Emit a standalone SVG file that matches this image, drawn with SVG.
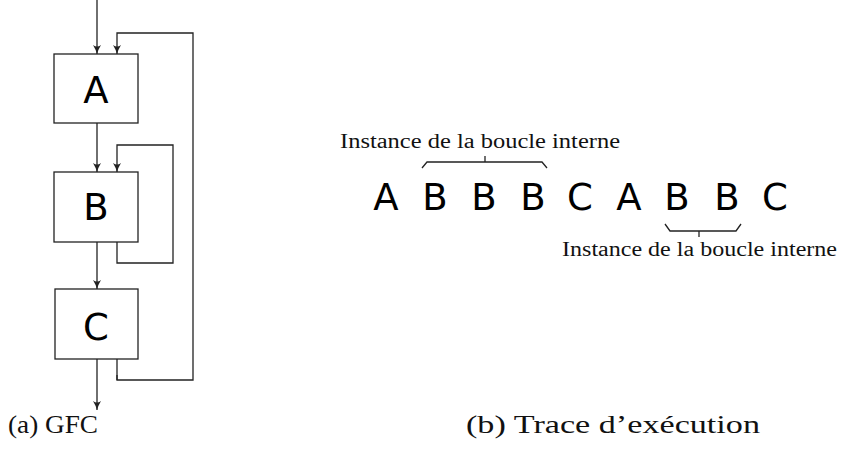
<svg xmlns="http://www.w3.org/2000/svg" width="843" height="457" viewBox="0 0 843 457">
<style>
.box{fill:#fff;stroke:#222;stroke-width:1.3}
.ln{fill:none;stroke:#222;stroke-width:1.3}
.big{font-family:"DejaVu Sans",sans-serif;font-size:37px;fill:#000;text-anchor:middle}
.lbl{font-family:"Liberation Serif",serif;font-size:20px;fill:#111}
.cap{font-family:"Liberation Serif",serif;font-size:25px;fill:#111}
</style>
<defs>
<marker id="ah" markerWidth="10" markerHeight="10" refX="9" refY="5" orient="auto" markerUnits="userSpaceOnUse">
<path d="M0,1 Q5,4 9,5 Q5,6 0,9 Q3,5 0,1 Z" fill="#222"/>
</marker>
</defs>
<g id="connectors">
<line class="ln" x1="97" y1="0" x2="97" y2="54" marker-end="url(#ah)"/>
<polyline class="ln" points="117,375 117,380 193,380 193,33 117,33 117,54" marker-end="url(#ah)"/>
<line class="ln" x1="97" y1="123" x2="97" y2="172" marker-end="url(#ah)"/>
<polyline class="ln" points="117,242 117,263 173,263 173,145 117,145 117,172" marker-end="url(#ah)"/>
<line class="ln" x1="97" y1="242" x2="97" y2="289" marker-end="url(#ah)"/>
<line class="ln" x1="117" y1="359" x2="117" y2="380"/>
<line class="ln" x1="97" y1="359" x2="97" y2="410" marker-end="url(#ah)"/>
</g>
<g id="nodeA"><rect class="box" x="54" y="54" width="84" height="69"/><text class="big" x="96" y="103">A</text></g>
<g id="nodeB"><rect class="box" x="54" y="172" width="84" height="70"/><text class="big" x="96" y="220">B</text></g>
<g id="nodeC"><rect class="box" x="55" y="289" width="83" height="70"/><text class="big" x="96" y="340">C</text></g>
<g id="trace">
<text class="big" x="386" y="210">A</text>
<text class="big" x="435" y="210">B</text>
<text class="big" x="484" y="210">B</text>
<text class="big" x="533" y="210">B</text>
<text class="big" x="580" y="210">C</text>
<text class="big" x="629" y="210">A</text>
<text class="big" x="677" y="210">B</text>
<text class="big" x="727" y="210">B</text>
<text class="big" x="775" y="210">C</text>
</g>
<g id="brace-top">
<polyline class="ln" points="422,168 427,162 542,162 547,168"/>
<line class="ln" x1="485" y1="162" x2="485" y2="156"/>
<text class="lbl" x="340" y="148" textLength="280" lengthAdjust="spacingAndGlyphs">Instance de la boucle interne</text>
</g>
<g id="brace-bottom">
<polyline class="ln" points="665,224 670,231 736,231 741,224"/>
<line class="ln" x1="699" y1="231" x2="699" y2="237"/>
<text class="lbl" x="562" y="256" textLength="275" lengthAdjust="spacingAndGlyphs">Instance de la boucle interne</text>
</g>
<text class="cap" x="8" y="433" textLength="90" lengthAdjust="spacingAndGlyphs">(a) GFC</text>
<text class="cap" x="466" y="433" textLength="294" lengthAdjust="spacingAndGlyphs">(b) Trace d’exécution</text>
</svg>
